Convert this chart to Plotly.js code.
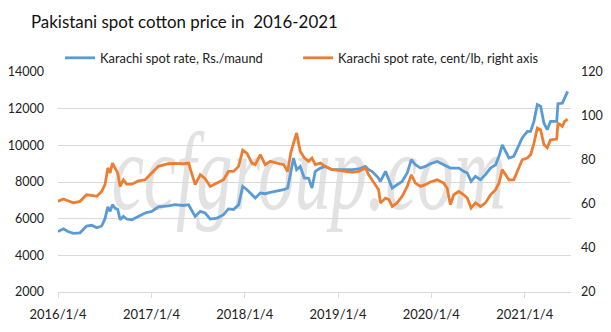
<!DOCTYPE html>
<html>
<head>
<meta charset="utf-8">
<script src="https://cdn.plot.ly/plotly-3.0.1.min.js"></script>
<style>
  html, body { margin: 0; padding: 0; background: #ffffff; }
  #chart { width: 611px; height: 332px; }
</style>
</head>
<body>
<div id="chart"></div>
<script>
// ---- Data ----
var dates = [
  '2016-01-04','2016-01-25','2016-02-12','2016-03-04','2016-03-30','2016-04-25','2016-05-15','2016-06-04',
  '2016-06-23','2016-07-06','2016-07-17','2016-07-26','2016-08-04','2016-08-14','2016-08-25','2016-09-03',
  '2016-09-16','2016-09-29','2016-10-19','2016-11-14','2016-12-10','2017-01-05','2017-01-31','2017-03-11',
  '2017-04-06','2017-05-09','2017-05-29','2017-06-24','2017-07-14','2017-08-02','2017-08-22','2017-09-17',
  '2017-10-13','2017-11-01','2017-11-21','2017-12-11','2017-12-27','2018-01-13','2018-02-01','2018-02-14',
  '2018-03-06','2018-03-25','2018-04-14','2018-05-10','2018-06-05','2018-06-21','2018-07-03','2018-07-14',
  '2018-07-26','2018-08-09','2018-08-25','2018-09-11','2018-09-24','2018-10-07','2018-10-27','2018-11-15',
  '2018-12-12','2019-01-07','2019-02-02','2019-02-28','2019-03-26','2019-04-21','2019-05-04','2019-05-17',
  '2019-05-30','2019-06-12','2019-06-19','2019-07-09','2019-07-22','2019-08-04','2019-08-23','2019-09-12',
  '2019-10-02','2019-10-18','2019-11-03','2019-11-23','2019-12-12','2020-01-01','2020-01-27','2020-02-22',
  '2020-03-06','2020-03-19','2020-04-01','2020-04-21','2020-05-10','2020-05-24','2020-06-08','2020-06-25',
  '2020-07-15','2020-08-03','2020-08-23','2020-09-12','2020-09-25','2020-10-08','2020-10-21','2020-11-03',
  '2020-11-22','2020-12-06','2020-12-25','2021-01-14','2021-01-27','2021-02-09','2021-02-22','2021-03-07',
  '2021-03-20','2021-04-02','2021-04-15','2021-05-09','2021-05-14','2021-05-31','2021-06-09','2021-06-21'
];

// Karachi spot rate, Rs./maund (left axis)
var rsPerMaund = [
  5300, 5450, 5300, 5200, 5230, 5600, 5640, 5500,
  5600, 6000, 6640, 6400, 6760, 6580, 6500, 5940,
  6120, 5980, 5940, 6120, 6310, 6400, 6640, 6700,
  6760, 6720, 6760, 6120, 6400, 6310, 5980, 6030,
  6220, 6530, 6500, 6760, 7760, 7580, 7300, 7130,
  7400, 7360, 7430, 7490, 7580, 7670, 8580, 9310,
  8670, 8850, 8220, 8200, 7670, 8580, 8760, 8850,
  8670, 8670, 8640, 8670, 8710, 8850, 8670, 8580,
  8400, 8200, 8030, 8580, 8130, 7670, 7850, 8030,
  8490, 9220, 8940, 8760, 8850, 9000, 9120, 8940,
  8850, 8760, 8760, 8760, 8580, 8490, 8030, 8310,
  8130, 8400, 8760, 8940, 9400, 10030, 9670, 9310,
  9400, 9860, 10400, 10760, 10760, 11310, 12220, 12130,
  11220, 10850, 11310, 11310, 12270, 12300, 12580, 12940
];

// Karachi spot rate, cent/lb (right axis)
var centPerLb = [
  61.2, 62.3, 61.5, 60.5, 61.2, 64.2, 63.9, 63.5,
  65.7, 68.8, 76.4, 74.1, 78.6, 76.4, 74.0, 68.0,
  71.0, 69.0, 69.0, 70.5, 71.0, 74.1, 77.1, 78.3,
  78.5, 78.3, 78.6, 68.8, 73.3, 71.5, 68.0, 69.5,
  71.0, 74.8, 74.8, 77.1, 84.5, 83.0, 78.6, 77.9,
  82.4, 77.9, 79.4, 78.6, 77.9, 74.8, 83.2, 87.7,
  92.3, 84.0, 81.0, 79.4, 80.9, 77.9, 78.6, 77.1,
  75.6, 75.3, 74.8, 74.4, 74.8, 76.4, 73.3, 71.0,
  68.8, 66.5, 60.5, 62.7, 62.0, 58.9, 60.5, 63.5,
  68.0, 73.3, 69.5, 68.0, 68.8, 70.0, 71.0, 69.5,
  67.3, 59.7, 64.2, 65.7, 64.2, 62.7, 58.2, 60.5,
  58.9, 60.5, 64.2, 66.5, 69.5, 75.6, 73.3, 71.0,
  71.0, 74.8, 80.1, 80.9, 82.4, 87.7, 94.5, 93.8,
  87.0, 85.5, 89.2, 89.5, 96.8, 95.3, 97.5, 98.6
];

var seriesNames = ['Karachi spot rate, Rs./maund', 'Karachi spot rate, cent/lb, right axis'];
var chartTitle = 'Pakistani spot cotton price in  2016-2021';
var watermark = 'ccfgroup.com';

var FONT = 'Lato, "Open Sans", sans-serif';
var legendFont = { family: FONT, size: 12.9, color: '#222' };

var traces = [
  { x: dates, y: rsPerMaund, name: seriesNames[0], type: 'scatter', mode: 'lines',
    line: { color: '#5B9BD5', width: 2.8 }, yaxis: 'y', legend: 'legend' },
  { x: dates, y: centPerLb, name: seriesNames[1], type: 'scatter', mode: 'lines',
    line: { color: '#ED7D31', width: 2.8 }, yaxis: 'y2', legend: 'legend2' }
];

var layout = {
  width: 611, height: 332,
  margin: { l: 58, r: 40, t: 72, b: 40, pad: 0 },
  paper_bgcolor: '#ffffff', plot_bgcolor: '#ffffff',
  font: { family: FONT, size: 12, color: '#222' },
  title: { text: chartTitle, x: 31 / 611, xref: 'container', xanchor: 'left',
           y: 1 - 22 / 332, yref: 'container', yanchor: 'middle',
           font: { family: FONT, size: 16.9, color: '#111' } },
  showlegend: true,
  legend: { orientation: 'h', x: 0.004, xanchor: 'left', y: 1.064, yanchor: 'middle',
            font: legendFont, itemwidth: 30, bgcolor: 'rgba(0,0,0,0)' },
  legend2: { orientation: 'h', x: 0.468, xanchor: 'left', y: 1.064, yanchor: 'middle',
             font: legendFont, itemwidth: 30, bgcolor: 'rgba(0,0,0,0)' },
  xaxis: { type: 'date', range: ['2016-01-04', '2021-07-04'],
           tick0: '2016-01-04', dtick: 'M12', tickformat: '%Y/%-m/%-d',
           ticks: 'outside', ticklen: 5, tickcolor: '#d9d9d9', tickwidth: 1,
           showline: true, linecolor: '#d9d9d9', linewidth: 1,
           showgrid: false, zeroline: false, ticklabelstandoff: 5,
           tickfont: { family: FONT, size: 13, color: '#222' } },
  yaxis: { range: [2000, 14000], dtick: 2000, tickformat: 'd',
           showgrid: true, gridcolor: '#d9d9d9', gridwidth: 1,
           zeroline: false, showline: false, ticks: '', ticklabelstandoff: 13,
           tickfont: { family: FONT, size: 12.5, color: '#222' } },
  yaxis2: { range: [20, 120], dtick: 20, overlaying: 'y', side: 'right',
            showgrid: false, zeroline: false, showline: false, ticks: '', ticklabelstandoff: 9,
            tickfont: { family: FONT, size: 12.5, color: '#222' } },
  shapes: [{
    type: 'rect', xref: 'paper', yref: 'paper', x0: 0.01, x1: 0.968, y0: 0.35, y1: 0.85,
    line: { width: 0 }, fillcolor: 'rgba(0,0,0,0)', layer: 'below',
    label: { text: watermark, textposition: 'middle center',
             font: { family: '"Liberation Serif", "DejaVu Serif", serif', size: 110, color: '#e2e2e2', style: 'italic' } }
  }]
};

Plotly.newPlot('chart', traces, layout, { displayModeBar: false, staticPlot: true }).then(function () {
  // compress the watermark horizontally, like the reference
  var labels = document.querySelectorAll('.shapelayer text');
  labels.forEach(function (t) {
    var bb = t.getBBox();
    var cx = bb.x + bb.width / 2;
    var prev = t.getAttribute('transform') || '';
    t.setAttribute('transform', 'translate(' + cx + ',0) scale(0.66,1) translate(' + (-cx) + ',0) ' + prev);
  });
});
</script>
</body>
</html>
